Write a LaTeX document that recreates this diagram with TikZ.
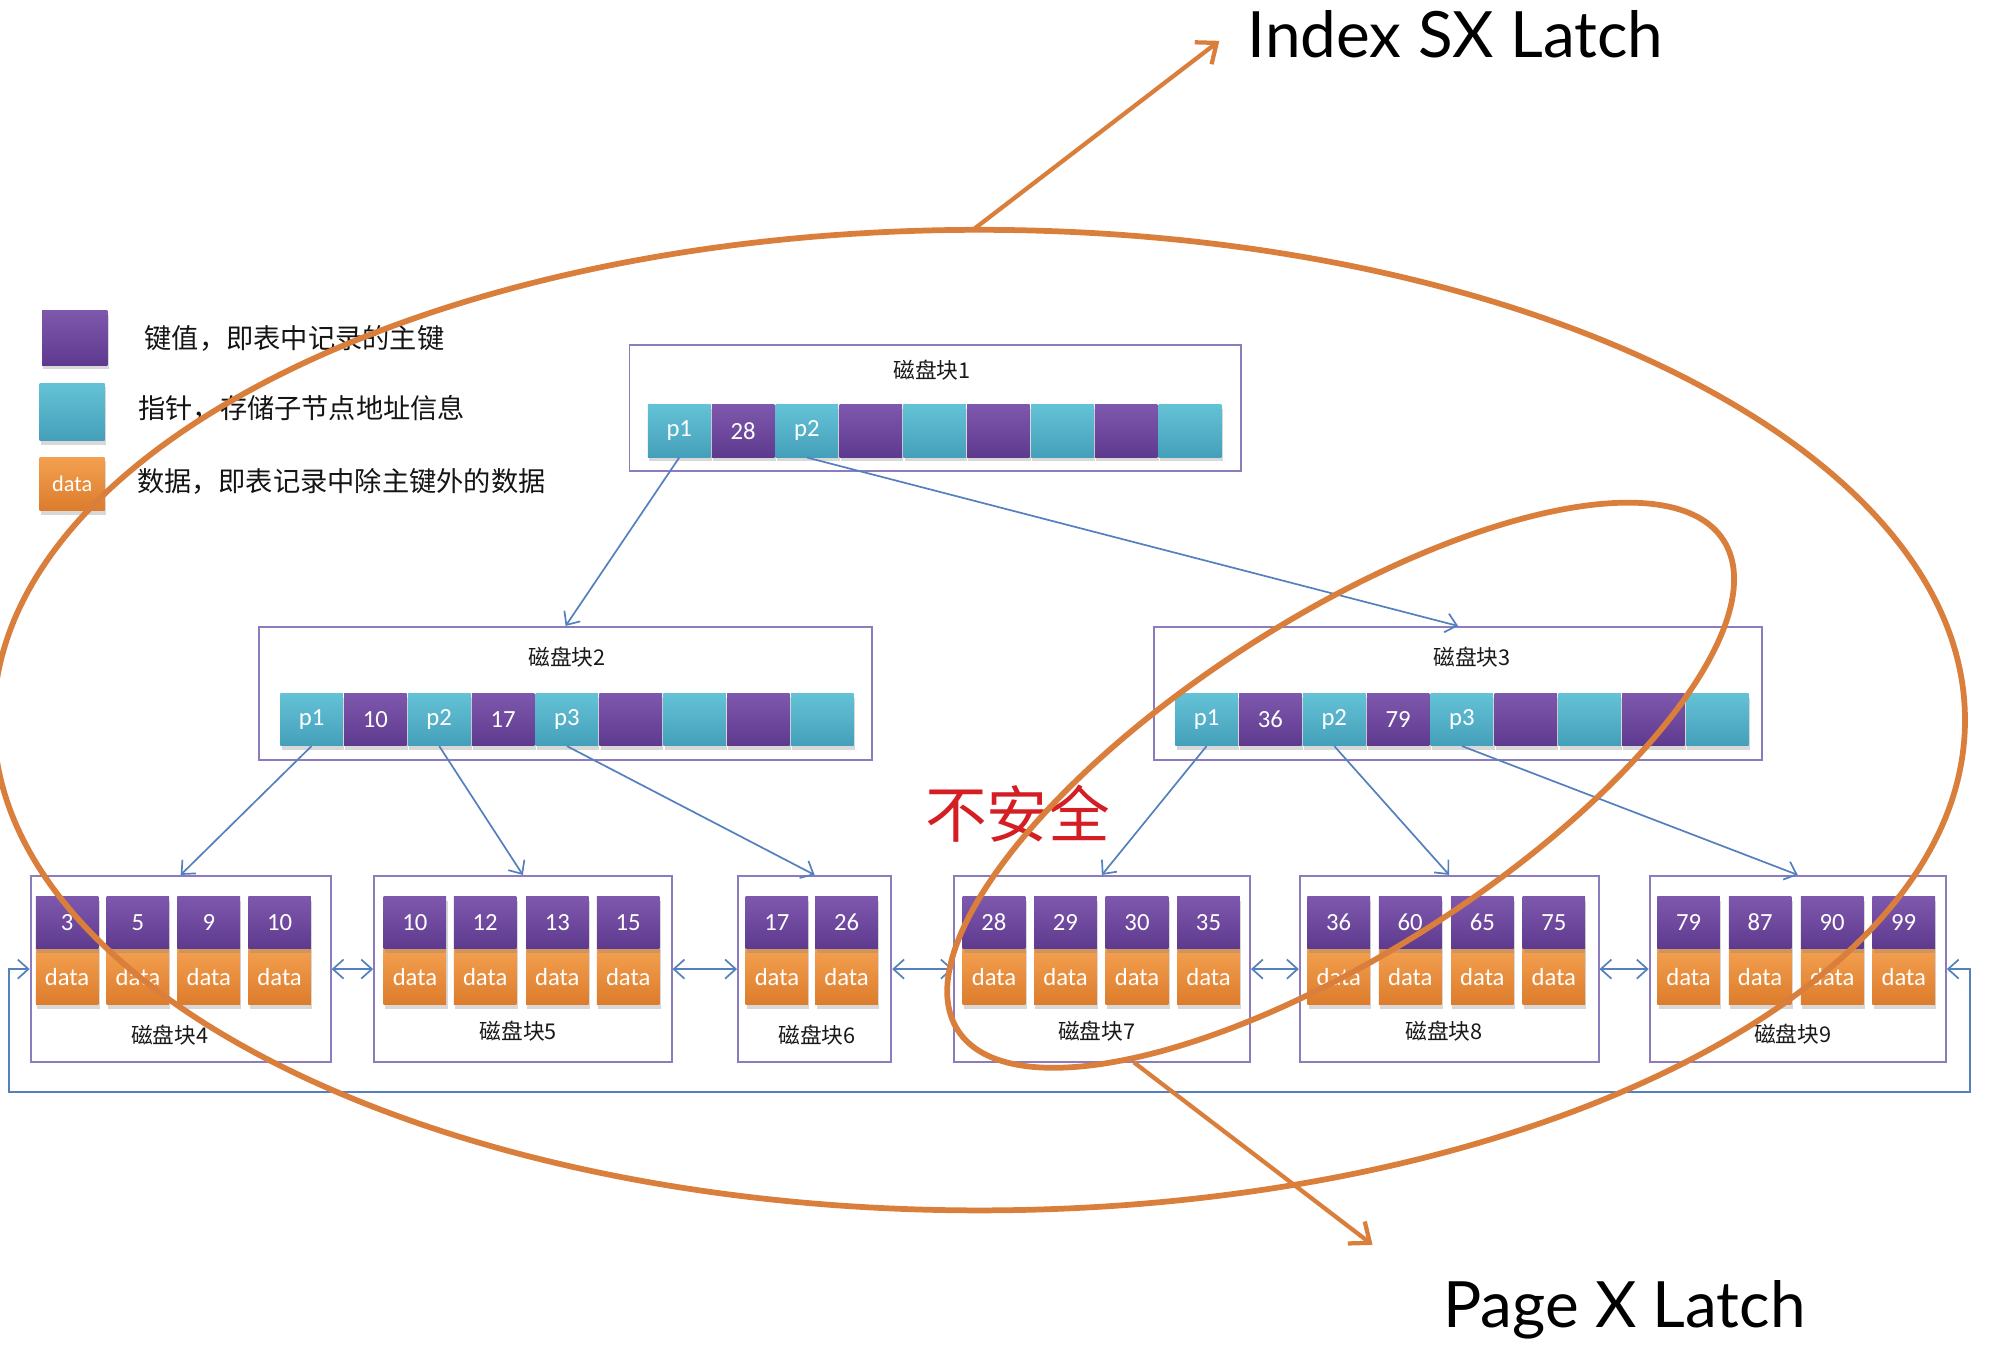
\documentclass[tikz,border=0pt]{standalone}
\usepackage{fontspec}
\usetikzlibrary{arrows.meta,shadows,calc}
\newfontfamily\cjk{Noto Sans CJK SC}
\newfontfamily\cellf{Carlito}
\newfontfamily\latf{Lato}
\definecolor{kpurT}{RGB}{126,88,172}
\definecolor{kpurB}{RGB}{94,58,142}
\definecolor{ktealT}{RGB}{100,194,214}
\definecolor{ktealB}{RGB}{68,160,186}
\definecolor{korgT}{RGB}{243,160,80}
\definecolor{korgB}{RGB}{220,124,44}
\definecolor{kline}{RGB}{84,128,190}
\definecolor{kbox}{RGB}{140,124,190}
\definecolor{kora}{RGB}{218,126,60}
\definecolor{kred}{RGB}{212,30,36}
\begin{document}
\begin{tikzpicture}[x=0.6pt,y=-0.6pt,
  cellbase/.style={minimum width=29.4pt, minimum height=24.6pt, inner sep=0pt, text=white,
    font=\cellf\fontsize{11.6}{12}\selectfont,
    drop shadow={shadow xshift=0.6pt, shadow yshift=-2pt, opacity=0.3}},
  tealc/.style={cellbase, top color=ktealT, bottom color=ktealB},
  purc/.style={cellbase, top color=kpurT, bottom color=kpurB},
  datac/.style={cellbase, top color=korgT, bottom color=korgB, minimum height=26.4pt},
  blk/.style={draw=kbox, line width=0.9pt, inner sep=0pt, fill=white},
  ttl/.style={font=\cjk\fontsize{10.2}{12}\selectfont, text=black!90, inner sep=0pt},
  lgd/.style={font=\cjk\fontsize{12.8}{15}\selectfont, text=black!92, inner sep=0pt, anchor=west},
  lnk/.style={draw=kline, line width=0.8pt, -{Straight Barb[length=5pt,width=9pt]}},
  dlnk/.style={draw=kline, line width=0.8pt, {Straight Barb[length=5pt,width=9pt]}-{Straight Barb[length=5pt,width=9pt]}},
  orel/.style={draw=kora, line width=2.7pt},
  oarr/.style={draw=kora, line width=2pt, -{Straight Barb[length=8pt,width=13pt,line width=2pt]}},
  latch/.style={font=\latf\fontsize{30}{34}\selectfont, text=black, inner sep=0pt, anchor=base west}
]
\useasboundingbox (0,0) rectangle (1568,1064);
\clip (0,0) rectangle (1568,1064);
\fill[white] (0,0) rectangle (1568,1064);

% legend
\node[purc, minimum width=30.6pt, minimum height=25.8pt] (lgp) at (58.5,264.5) {};
\node[tealc, minimum width=30.6pt, minimum height=27pt] (lgt) at (56.5,322.5) {};
\node[datac, minimum width=30.6pt, minimum height=25.2pt, font=\cellf\fontsize{10.5}{12}\selectfont] (lgd) at (56.5,379) {data};
\node[lgd] (lg1) at (113,265) {键值，即表中记录的主键};
\node[lgd] (lg2) at (108,320) {指针，存储子节点地址信息};
\node[lgd] (lg3) at (107,377) {数据，即表记录中除主键外的数据};

% root block
\node[blk, minimum width=287.4pt, minimum height=59.4pt] (b1) at (732.5,319.5) {};
\node[ttl] (t1) at (730,290) {磁盘块1};
\foreach \i/\t/\s in {1/p1/tealc,2/28/purc,3/p2/tealc,4//purc,5//tealc,6//purc,7//tealc,8//purc,9//tealc}
  \node[\s] (r\i) at ({532+50*(\i-1)},337.5) {\t};

% level 2
\node[blk, minimum width=288pt, minimum height=62.4pt] (b2) at (443,543) {};
\node[ttl] (t2) at (444,515) {磁盘块2};
\foreach \i/\t/\s in {1/p1/tealc,2/10/purc,3/p2/tealc,4/17/purc,5/p3/tealc,6//purc,7//tealc,8//purc,9//tealc}
  \node[\s] (m\i) at ({244+50*(\i-1)},563.5) {\t};
\node[blk, minimum width=285.6pt, minimum height=62.4pt] (b3) at (1142,543) {};
\node[ttl] (t3) at (1153,515) {磁盘块3};
\foreach \i/\t/\s in {1/p1/tealc,2/36/purc,3/p2/tealc,4/79/purc,5/p3/tealc,6//purc,7//tealc,8//purc,9//tealc}
  \node[\s] (n\i) at ({945+50*(\i-1)},563.5) {\t};

% leaves
\node[blk, minimum width=141pt, minimum height=87.6pt] (b4) at (141.5,759) {};
\node[blk, minimum width=139.8pt, minimum height=87.6pt] (b5) at (409.5,759) {};
\node[blk, minimum width=72pt, minimum height=87.6pt] (b6) at (638,759) {};
\node[blk, minimum width=139.2pt, minimum height=87.6pt] (b7) at (863,759) {};
\node[blk, minimum width=140.4pt, minimum height=87.6pt] (b8) at (1135,759) {};
\node[blk, minimum width=139.2pt, minimum height=87.6pt] (b9) at (1408,759) {};
\node[ttl] (t4) at (133,811) {磁盘块4};
\node[ttl] (t5) at (406,808) {磁盘块5};
\node[ttl] (t6) at (640,811) {磁盘块6};
\node[ttl] (t7) at (859,808) {磁盘块7};
\node[ttl] (t8) at (1131,808) {磁盘块8};
\node[ttl] (t9) at (1404,810) {磁盘块9};
\foreach \b/\x/\k in {4/52.5/3,4/108/5,4/163.5/9,4/219/10,
                      5/325/10,5/380/12,5/436.5/13,5/492/15,
                      6/608.5/17,6/663/26,
                      7/778.5/28,7/834.5/29,7/890.5/30,7/946.5/35,
                      8/1048.5/36,8/1104.5/60,8/1161/65,8/1217/75,
                      9/1322.5/79,9/1378.5/87,9/1435/90,9/1491/99}{
  \node[datac] (d\b-\k) at (\x,765) {data};
  \node[purc] (k\b-\k) at (\x,722.5) {\k};
}

% tree links
\draw[lnk] (r1.south) -- (b2.north);
\draw[lnk] (r3.south) -- (b3.north);
\draw[lnk] (m1.south) -- (b4.north);
\draw[lnk] (m3.south) -- (b5.north);
\draw[lnk] (m5.south) -- (b6.north);
\draw[lnk] (n1.south) -- (b7.north);
\draw[lnk] (n3.south) -- (b8.north);
\draw[lnk] (n5.south) -- (b9.north);

% sibling links
\draw[dlnk] (b4.east) -- (b5.west);
\draw[dlnk] (b5.east) -- (b6.west);
\draw[dlnk] (b6.east) -- (b7.west);
\draw[dlnk] (b7.east) -- (b8.west);
\draw[dlnk] (b8.east) -- (b9.west);
\coordinate (lpL) at (7,855);
\coordinate (lpR) at (1543,855);
\draw[dlnk] (b4.west) -| (lpL) -- (lpR) |- (b9.east);

% unsafe label
\node[font=\cjk\fontsize{29}{32}\selectfont, text=kred, inner sep=0pt] (unsafe) at (797,637) {不安全};

% latch ellipses
\draw[orel] (767,564) ellipse (772 and 384);
\draw[orel, rotate around={32.6:(1050,615)}] (1050,615) ellipse (356 and 131);
\coordinate (etop) at (762,180);
\coordinate (ehead) at (955,32);
\draw[oarr] (etop) -- (ehead);
\coordinate (sbot) at (888,832);
\coordinate (shead) at (1075,975);
\draw[oarr] (sbot) -- (shead);
\node[latch] (ix) at (977,45) {Index SX Latch};
\node[latch] (px) at (1130,1040) {Page X Latch};
\end{tikzpicture}
\end{document}
